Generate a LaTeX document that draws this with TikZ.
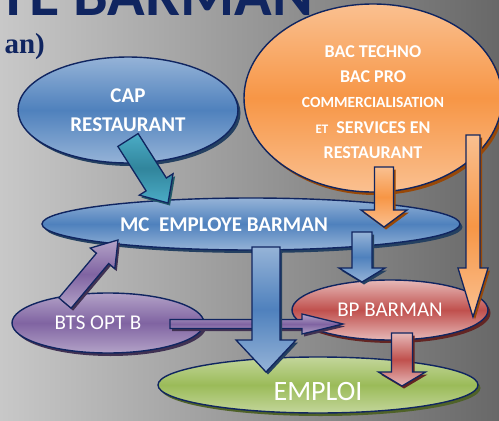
\documentclass[tikz,border=0pt]{standalone}
\usepackage{fontspec}
\setmainfont{Carlito}
\newfontfamily\serifbold{Liberation Serif}
\usepackage{tikz}
\usetikzlibrary{calc,shapes.geometric,shadows}

\definecolor{navy}{RGB}{16,37,96}
\definecolor{bgl}{RGB}{200,200,200}
\definecolor{bgr}{RGB}{104,104,104}
\definecolor{bluel}{RGB}{149,179,215}
\definecolor{bluem}{RGB}{79,129,189}
\definecolor{blued}{RGB}{36,64,97}
\definecolor{orangel}{RGB}{250,192,144}
\definecolor{orangem}{RGB}{247,150,70}
\definecolor{oranged}{RGB}{152,72,7}
\definecolor{purplel}{RGB}{179,162,199}
\definecolor{purplem}{RGB}{128,100,162}
\definecolor{purpled}{RGB}{64,49,82}
\definecolor{redl}{RGB}{230,185,184}
\definecolor{redm}{RGB}{192,80,77}
\definecolor{redd}{RGB}{99,37,35}
\definecolor{greenl}{RGB}{195,214,155}
\definecolor{greenm}{RGB}{155,187,89}
\definecolor{greend}{RGB}{79,98,40}
\definecolor{teall}{RGB}{75,172,198}
\definecolor{tealm}{RGB}{49,133,156}
\definecolor{teald}{RGB}{33,89,104}

% fat arrow: #1 colour, #2 tail, #3 tip, #4 half shaft, #5 half head, #6 head length
\newcommand{\blockarrow}[6]{%
  \coordinate (hb) at ($(#3)!#6!(#2)$);
  \coordinate (a1) at ($(#2)!#4!90:(#3)$);
  \coordinate (a2) at ($(hb)!#4!90:(#3)$);
  \coordinate (a3) at ($(hb)!#5!90:(#3)$);
  \coordinate (a4) at ($(hb)!#5!-90:(#3)$);
  \coordinate (a5) at ($(hb)!#4!-90:(#3)$);
  \coordinate (a6) at ($(#2)!#4!-90:(#3)$);
  \fill[#1d,transform canvas={shift={(2pt,-2.5pt)}}]
    (a1) -- (a2) -- (a3) -- (#3) -- (a4) -- (a5) -- (a6) -- cycle;
  \draw[arr,top color=#1l,bottom color=#1l,middle color=#1m]
    (a1) -- (a2) -- (a3) -- (#3) -- (a4) -- (a5) -- (a6) -- cycle;
}

\tikzset{
  oval/.style={ellipse,draw=navy,line width=1.4pt,inner sep=0pt,
    top color=#1l,bottom color=#1l,middle color=#1m,
    drop shadow={shadow xshift=2.5pt,shadow yshift=-3pt,fill=#1d,opacity=1}},
  arr/.style={draw=navy,line width=1.3pt,line join=miter},
  lbl/.style={text=white,align=center,inner sep=0pt},
}

\begin{document}
\begin{tikzpicture}[x=1pt,y=-1pt]
  \useasboundingbox (0,0) rectangle (499,421);
  \clip (0,0) rectangle (499,421);
  \shade[left color=bgl,right color=bgr] (0,0) rectangle (499,421);

  % heading, cut by the frame
  \node[anchor=base east,text=navy,inner sep=0pt,
    font=\bfseries\fontsize{62}{62}\selectfont] (ttl) at (313,15) {YE BARMAN};
  \node[anchor=base east,text=navy,inner sep=0pt,
    font=\serifbold\bfseries\fontsize{29}{29}\selectfont] (sub) at (45,53) {an)};

  % diplomas
  \node[oval=blue,minimum width=220pt,minimum height=106pt] (cap) at (128,110) {};
  \node[oval=orange,minimum width=258pt,minimum height=188pt] (bac) at (373,98) {};
  \node[oval=blue,minimum width=418pt,minimum height=52pt] (mc) at (251,224) {};
  \node[oval=purple,minimum width=192pt,minimum height=60pt] (bts) at (108,323) {};
  \node[oval=red,minimum width=196pt,minimum height=60pt] (bp) at (390,310) {};
  \node[oval=green,minimum width=320pt,minimum height=56pt] (emploi) at (318,385) {};

  \node[lbl,font=\bfseries\fontsize{21}{29}\selectfont] (captext) at (cap) {CAP\\RESTAURANT};
  \node[lbl,font=\bfseries\fontsize{18}{25.3}\selectfont] (bactext) at ($(bac)+(0,4)$)
    {BAC TECHNO\\BAC PRO\\{\fontsize{15.5}{25.3}\selectfont COMMERCIALISATION}\\
     {\fontsize{13}{25.3}\selectfont ET}\ \ SERVICES EN\\RESTAURANT};
  \node[lbl,font=\bfseries\fontsize{21}{24}\selectfont] (mctext) at ($(mc)+(-27,1)$) {MC\ \ EMPLOYE BARMAN};
  \node[lbl,font=\fontsize{21}{24}\selectfont] (btstext) at ($(bts)+(-10,0)$) {BTS OPT B};
  \node[lbl,font=\fontsize{21}{24}\selectfont] (bptext) at (bp) {BP BARMAN};
  \node[lbl,font=\fontsize{28}{30}\selectfont] (emploitext) at ($(emploi)+(0,7)$) {EMPLOI};

  % arrow ends
  \coordinate (cap-out) at ($(cap)+(0,30)$);
  \coordinate (mc-in1) at ($(mc)+(-83,-21)$);
  \coordinate (bts-up) at ($(bts)+(-43,-20)$);
  \coordinate (mc-in2) at ($(mc)+(-133,16)$);
  \coordinate (bac-out1) at ($(bac)+(11,69)$);
  \coordinate (mc-in3) at ($(mc)+(133,3)$);
  \coordinate (bts-out) at ($(bts)+(62,1)$);
  \coordinate (bp-in1) at ($(bp)+(-47,14)$);
  \coordinate (mc-out1) at ($(mc)+(15,23)$);
  \coordinate (emp-in1) at ($(emploi)+(-52,-13)$);
  \coordinate (mc-out2) at ($(mc)+(111,8)$);
  \coordinate (bp-in2) at ($(bp)+(-28,-28)$);
  \coordinate (bac-out2) at ($(bac)+(100,37)$);
  \coordinate (bp-in3) at ($(bp)+(83,7)$);
  \coordinate (bp-out) at ($(bp)+(12,23)$);
  \coordinate (emp-in2) at ($(emploi)+(84,1)$);

  \blockarrow{teal}{cap-out}{mc-in1}{12pt}{20pt}{22pt}
  \blockarrow{purple}{bts-up}{mc-in2}{8pt}{16pt}{24pt}
  \blockarrow{orange}{bac-out1}{mc-in3}{9.5pt}{23pt}{17pt}
  \blockarrow{purple}{bts-out}{bp-in1}{4.5pt}{10pt}{41pt}
  \blockarrow{blue}{mc-out1}{emp-in1}{14pt}{30pt}{32pt}
  \blockarrow{blue}{mc-out2}{bp-in2}{10pt}{23pt}{14pt}
  \blockarrow{orange}{bac-out2}{bp-in3}{7pt}{15pt}{49pt}
  \blockarrow{red}{bp-out}{emp-in2}{10.5pt}{23.5pt}{14pt}
\end{tikzpicture}
\end{document}
